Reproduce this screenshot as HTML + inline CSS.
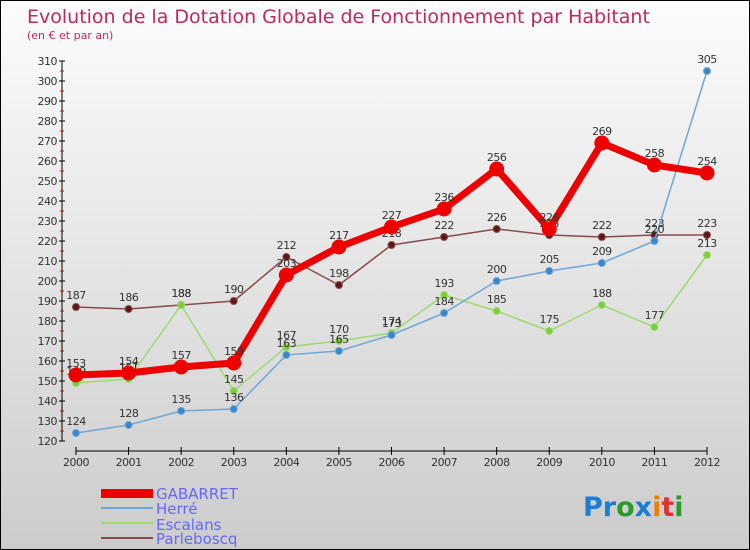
<!DOCTYPE html>
<html><head><meta charset="utf-8"><style>
body{margin:0;}
#wrap{position:relative;width:748px;height:548px;border:1px solid #000;background:linear-gradient(#fcfcfc,#cccccc);font-family:"DejaVu Sans","Liberation Sans",sans-serif;overflow:hidden}
svg text{font-family:"DejaVu Sans","Liberation Sans",sans-serif}
</style></head><body>
<div id="wrap">
<svg id="c" width="748" height="548">
<text x="26" y="22" font-size="19" fill="#c0285a">Evolution de la Dotation Globale de Fonctionnement par Habitant</text>
<text x="26" y="38" font-size="11" fill="#c0285a">(en € et par an)</text>
<g id="axes"></g><g id="series"></g>
<g>
<rect x="100" y="488" width="52" height="9" fill="#e00"/>
<text x="155" y="498" font-size="15" fill="#6666ff">GABARRET</text>
<line x1="100" y1="507" x2="152" y2="507" stroke="#6fa7d6" stroke-width="2"/>
<text x="155" y="513" font-size="15" fill="#6666ff">Herré</text>
<line x1="100" y1="522" x2="152" y2="522" stroke="#9edb6e" stroke-width="2"/>
<text x="155" y="529" font-size="15" fill="#6666ff">Escalans</text>
<line x1="100" y1="537" x2="152" y2="537" stroke="#8b4a4a" stroke-width="2"/>
<text x="155" y="543" font-size="15" fill="#6666ff">Parleboscq</text>
</g>
<g font-size="27" font-weight="bold">
<text x="582" y="515"><tspan fill="#1a7fd4">Pr</tspan><tspan fill="#2a9a2a">o</tspan><tspan fill="#1a7fd4">x</tspan><tspan fill="#f07f00">i</tspan><tspan fill="#e03030">t</tspan><tspan fill="#2a9a2a">i</tspan></text>
</g>
</svg></div>
<script>
const years=["2000","2001","2002","2003","2004","2005","2006","2007","2008","2009","2010","2011","2012"];
const yTicks=[120,130,140,150,160,170,180,190,200,210,220,230,240,250,260,270,280,290,300,310];
const gabarret=[153,154,157,159,203,217,227,236,256,226,269,258,254];
const herre=[124,128,135,136,163,165,173,184,200,205,209,220,305];
const escalans=[149,151,188,145,167,170,174,193,185,175,188,177,213];
const parleboscq=[187,186,188,190,212,198,218,222,226,223,222,223,223];
const NS="http://www.w3.org/2000/svg";
const X=i=>75+i*(706-75)/(years.length-1);
const Y=v=>440-(v-120)*2;
function mk(t,a,p){const e=document.createElementNS(NS,t);for(const k in a)e.setAttribute(k,a[k]);p.appendChild(e);return e;}
const ax=document.getElementById('axes');
let l=mk('line',{x1:61,y1:60,x2:61,y2:440,stroke:'#000'},ax);


yTicks.forEach(v=>{mk('line',{x1:58,y1:Y(v),x2:64,y2:Y(v),stroke:'#000'},ax);
 if(v<310)mk('line',{x1:59,y1:Y(v+5),x2:63,y2:Y(v+5),stroke:'#e00'},ax);
 const t=mk('text',{x:56,y:Y(v)+4,'font-size':11,fill:'#333','text-anchor':'end','letter-spacing':'-0.5'},ax);t.textContent=v;
 
 });
l=mk('line',{x1:75,y1:450,x2:706,y2:450,stroke:'#000'},ax);


years.forEach((y,i)=>{mk('line',{x1:X(i),y1:446,x2:X(i),y2:454,stroke:'#000'},ax);
 const t=mk('text',{x:X(i),y:465,'font-size':11,fill:'#333','text-anchor':'middle','letter-spacing':'-0.5'},ax);t.textContent=y;
 
 });
const sg=document.getElementById('series');
function draw(vals,name,col,w,r,dot){
 const g=mk('g',{},sg);
 
 
 mk('polyline',{points:vals.map((v,i)=>X(i)+','+Y(v)).join(' '),fill:'none',stroke:col,'stroke-width':w,'stroke-linejoin':'round'},g);
 vals.forEach((v,i)=>{const c=mk('circle',{cx:X(i),cy:Y(v),r:r,fill:dot,stroke:col,'stroke-width':1},g);
  
  
  const t=mk('text',{x:X(i),y:Y(v)-8,'font-size':11,fill:'#333','text-anchor':'middle','letter-spacing':'-0.5'},g);t.textContent=v;
  
  });
}
draw(parleboscq,'parleboscq','#8b4a4a',1.5,3.5,'#5a1a1a');
draw(escalans,'escalans','#9edb6e',1.5,3.5,'#7ccf3c');
draw(herre,'herre','#6fa7d6',1.5,3.5,'#3a86c8');
draw(gabarret,'gabarret','#e00',7,7,'#e00');
</script>
</body></html>
